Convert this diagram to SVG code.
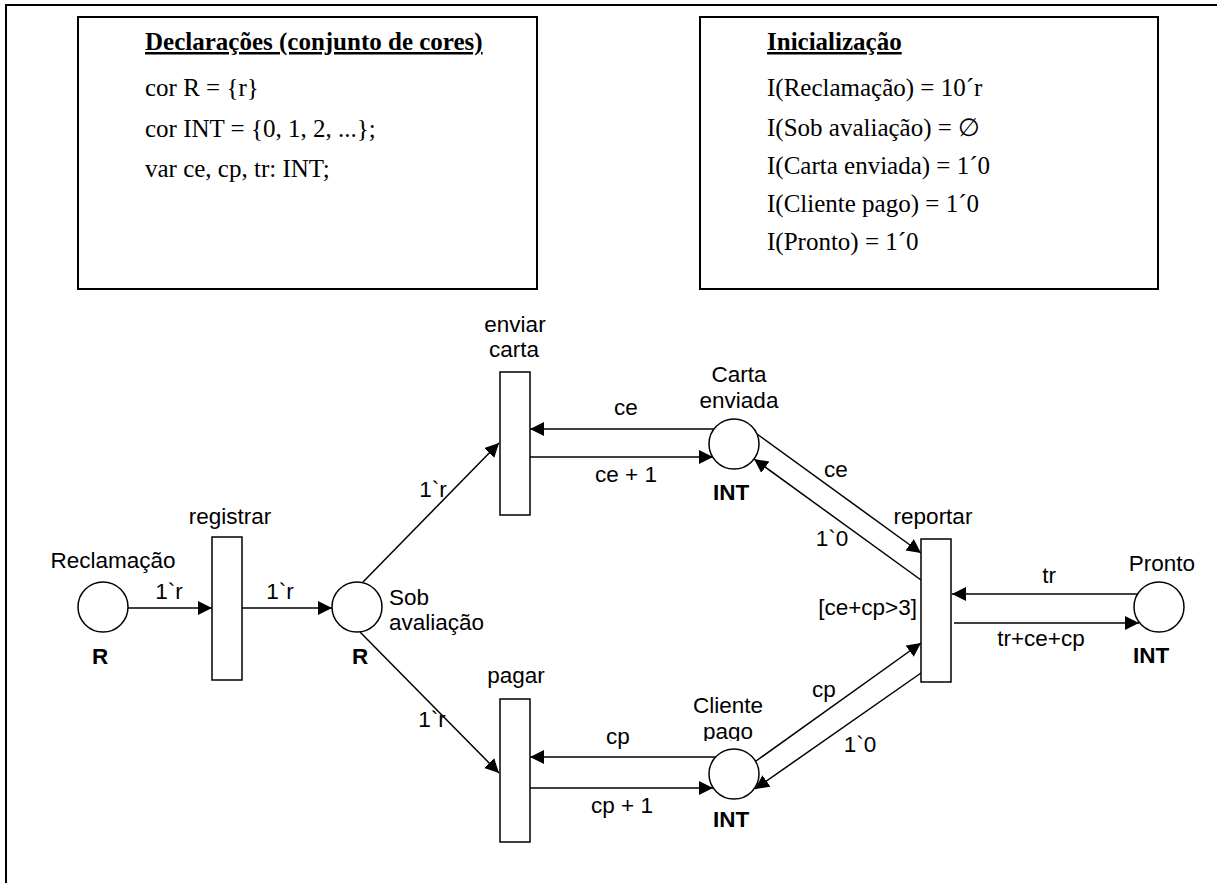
<svg xmlns="http://www.w3.org/2000/svg" width="1217" height="883" viewBox="0 0 1217 883">
  <style>
    .frame { fill: none; stroke: #000; stroke-width: 2; }
    .box { fill: #fff; stroke: #000; stroke-width: 2; }
    .decl { font-family: "Liberation Serif", "Times New Roman", serif; font-size: 25px; fill: #000; }
    .decl-title { font-weight: bold; text-decoration: underline; }
    .place { fill: #fff; stroke: #000; stroke-width: 1.5; }
    .trans { fill: #fff; stroke: #000; stroke-width: 1.5; }
    .lbl { font-family: "Liberation Sans", Arial, sans-serif; font-size: 22.5px; fill: #000; }
    .mid { text-anchor: middle; }
    .end { text-anchor: end; }
    .type { font-weight: bold; }
    .arc { fill: none; stroke: #000; stroke-width: 1.5; marker-end: url(#arrow); }
  </style>
  <defs>
    <marker id="arrow" markerUnits="userSpaceOnUse" markerWidth="16" markerHeight="16" refX="14" refY="7" orient="auto">
      <path d="M0,0 L14,7 L0,14 z" fill="#000"/>
    </marker>
    <clipPath id="clip-pago">
      <rect x="680" y="700" width="100" height="41"/>
    </clipPath>
  </defs>

  <rect width="1217" height="883" fill="#fff"/>
  <!-- page frame (only top and left edges fall inside the canvas) -->
  <rect class="frame" x="6" y="5" width="1230" height="900"/>

  <!-- colour set declarations -->
  <g id="declaracoes">
    <rect class="box" x="78" y="17" width="459" height="272"/>
    <text class="decl decl-title" x="145" y="50">Declarações (conjunto de cores)</text>
    <text class="decl" x="145" y="96">cor R = {r}</text>
    <text class="decl" x="145" y="137">cor INT = {0, 1, 2, ...};</text>
    <text class="decl" x="145" y="177">var ce, cp, tr: INT;</text>
  </g>

  <!-- initial marking -->
  <g id="inicializacao">
    <rect class="box" x="700" y="17" width="458" height="272"/>
    <text class="decl decl-title" x="767" y="50">Inicialização</text>
    <text class="decl" x="767" y="96">I(Reclamação) = 10´r</text>
    <text class="decl" x="767" y="136">I(Sob avaliação) = ∅</text>
    <text class="decl" x="767" y="174">I(Carta enviada) = 1´0</text>
    <text class="decl" x="767" y="212">I(Cliente pago) = 1´0</text>
    <text class="decl" x="767" y="250">I(Pronto) = 1´0</text>
  </g>

  <!-- arcs -->
  <g id="arcos">
    <line class="arc" x1="128" y1="608" x2="212" y2="608"/>
    <text class="lbl mid" x="169" y="599">1`r</text>
    <line class="arc" x1="242" y1="608" x2="332" y2="608"/>
    <text class="lbl mid" x="280" y="599">1`r</text>

    <line class="arc" x1="363" y1="582" x2="499" y2="443"/>
    <text class="lbl mid" x="433" y="497">1`r</text>
    <line class="arc" x1="360" y1="632" x2="499" y2="773"/>
    <text class="lbl mid" x="432" y="727">1`r</text>

    <line class="arc" x1="714" y1="429" x2="530" y2="429"/>
    <text class="lbl mid" x="626" y="415">ce</text>
    <line class="arc" x1="530" y1="457" x2="713" y2="457"/>
    <text class="lbl mid" x="626" y="482">ce + 1</text>

    <line class="arc" x1="757" y1="434" x2="921" y2="553"/>
    <text class="lbl mid" x="836" y="477">ce</text>
    <line class="arc" x1="921" y1="580" x2="754" y2="459"/>
    <text class="lbl mid" x="832" y="546">1`0</text>

    <line class="arc" x1="715" y1="757" x2="530" y2="757"/>
    <text class="lbl mid" x="618" y="744">cp</text>
    <line class="arc" x1="530" y1="788" x2="713" y2="788"/>
    <text class="lbl mid" x="622" y="813">cp + 1</text>

    <line class="arc" x1="756" y1="761" x2="921" y2="643"/>
    <text class="lbl mid" x="824" y="697">cp</text>
    <line class="arc" x1="921" y1="673" x2="755" y2="789"/>
    <text class="lbl mid" x="860" y="752">1`0</text>

    <line class="arc" x1="1137" y1="594" x2="952" y2="594"/>
    <text class="lbl mid" x="1049" y="583">tr</text>
    <line class="arc" x1="954" y1="623" x2="1139" y2="623"/>
    <text class="lbl mid" x="1041" y="646">tr+ce+cp</text>
  </g>

  <!-- places -->
  <g id="reclamacao">
    <circle class="place" cx="103" cy="607" r="25"/>
    <text class="lbl mid" x="113" y="568">Reclamação</text>
    <text class="lbl mid type" x="100" y="664">R</text>
  </g>
  <g id="sob-avaliacao">
    <circle class="place" cx="357" cy="607" r="25"/>
    <text class="lbl" x="389" y="605">Sob</text>
    <text class="lbl" x="389" y="630">avaliação</text>
    <text class="lbl mid type" x="360" y="664">R</text>
  </g>
  <g id="carta-enviada">
    <circle class="place" cx="734" cy="444" r="25"/>
    <text class="lbl mid" x="739" y="382">Carta</text>
    <text class="lbl mid" x="739" y="408">enviada</text>
    <text class="lbl mid type" x="731" y="500">INT</text>
  </g>
  <g id="cliente-pago">
    <circle class="place" cx="734" cy="774" r="25"/>
    <text class="lbl mid" x="728" y="713">Cliente</text>
    <text class="lbl mid" x="728" y="739" clip-path="url(#clip-pago)">pago</text>
    <text class="lbl mid type" x="731" y="827">INT</text>
  </g>
  <g id="pronto">
    <circle class="place" cx="1159" cy="607" r="25"/>
    <text class="lbl mid" x="1162" y="571">Pronto</text>
    <text class="lbl mid type" x="1151" y="663">INT</text>
  </g>

  <!-- transitions -->
  <g id="registrar">
    <rect class="trans" x="212" y="537" width="30" height="143"/>
    <text class="lbl mid" x="230" y="524">registrar</text>
  </g>
  <g id="enviar-carta">
    <rect class="trans" x="500" y="372" width="30" height="143"/>
    <text class="lbl mid" x="515" y="332">enviar</text>
    <text class="lbl mid" x="514" y="357">carta</text>
  </g>
  <g id="pagar">
    <rect class="trans" x="500" y="699" width="30" height="143"/>
    <text class="lbl mid" x="516" y="683">pagar</text>
  </g>
  <g id="reportar">
    <rect class="trans" x="921" y="539" width="30" height="143"/>
    <text class="lbl mid" x="933" y="524">reportar</text>
    <text class="lbl end" x="917" y="615">[ce+cp&gt;3]</text>
  </g>
</svg>
